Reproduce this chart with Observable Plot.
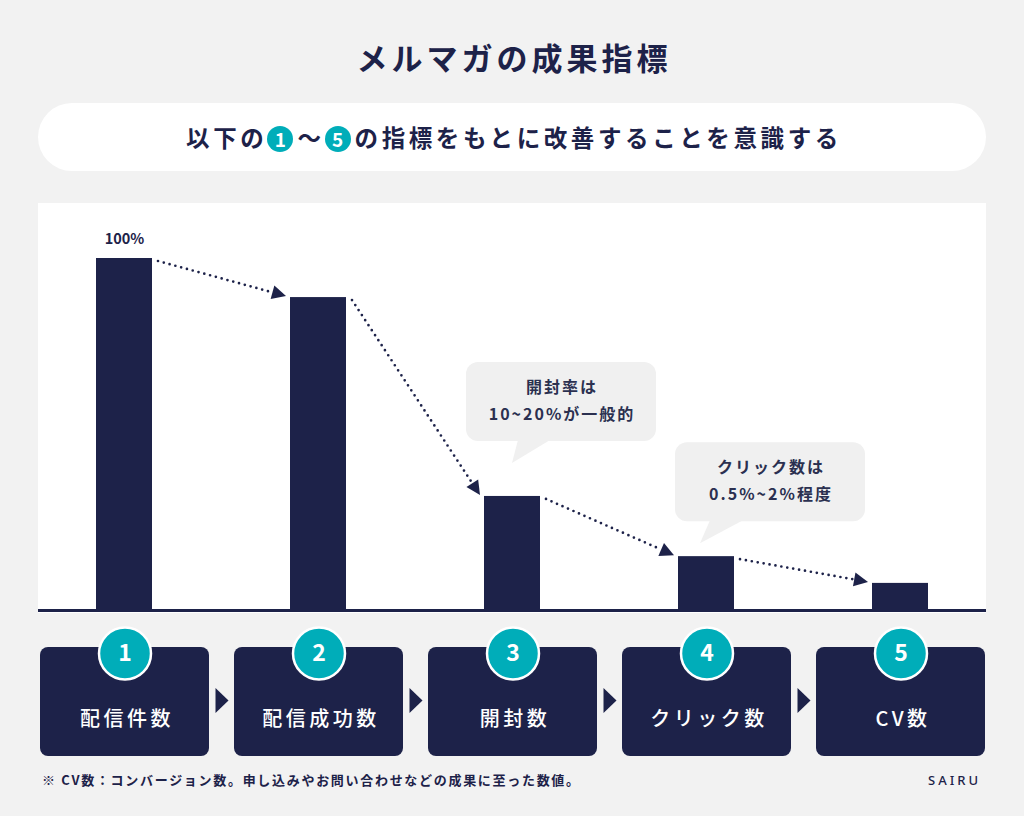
<!DOCTYPE html>
<html><head><meta charset="utf-8">
<script src="https://cdn.jsdelivr.net/npm/d3@7"></script>
<script src="https://cdn.jsdelivr.net/npm/@observablehq/plot@0.6"></script>
<style>
body{margin:0;background:#f2f2f2;width:1024px;height:816px;position:relative;overflow:hidden;font-family:"Noto Sans CJK JP","Noto Sans",sans-serif;color:#1d2249;}
#title{position:absolute;left:0;width:1024px;top:32px;text-align:center;font-size:31px;font-weight:700;letter-spacing:4px;line-height:50px;text-indent:4px;}
#pill{position:absolute;left:38px;top:103px;width:948px;height:68px;border-radius:34px;background:#fff;text-align:center;line-height:68px;font-size:23.5px;font-weight:700;letter-spacing:3.6px;text-indent:4px;}
.num{display:inline-block;width:26px;height:26px;border-radius:50%;background:#00adb9;color:#fff;line-height:26px;font-size:19px;letter-spacing:0;text-indent:0;text-align:center;vertical-align:middle;position:relative;top:-2px;margin-right:4px;}
#chart{position:absolute;left:38px;top:203px;}
#steps{position:absolute;left:38px;top:612px;}
#steps svg text.lbl{letter-spacing:3.5px;}
#chart svg text.co{letter-spacing:2px;}
#note{position:absolute;left:42px;top:769px;font-size:13px;font-weight:700;letter-spacing:1.7px;line-height:22px;}
#logo{position:absolute;left:928px;top:769px;font-size:13px;letter-spacing:3px;font-weight:500;line-height:22px;font-family:"Noto Sans","Open Sans",sans-serif;}
</style>
</head><body>
<div id="title">メルマガの成果指標</div>
<div id="pill">以下の<span class="num">1</span>〜<span class="num">5</span>の指標をもとに改善することを意識する</div>
<div id="chart"></div>
<div id="steps"></div>
<div id="note">※ CV数：コンバージョン数。申し込みやお問い合わせなどの成果に至った数値。</div>
<div id="logo">SAIRU</div>
<script>
// ---- data ----
const categories = ["配信件数", "配信成功数", "開封数", "クリック数", "CV数"];
const stepNumbers = ["1", "2", "3", "4", "5"];
const rates = [100, 88.9, 32.4, 15.3, 7.7];
const topLabels = ["100%", "", "", "", ""];
const calloutCategories = ["開封数", "クリック数"];
const calloutLines = [["開封率は", "10~20%が一般的"], ["クリック数は", "0.5%~2%程度"]];

// ---- styles / layout ----
const NAVY = "#1d2249";
const TEAL = "#00adb9";
const BUBBLE = "#f0f0f0";
const calloutLayout = [
  {dx: -18, top: -134, w: 190, h: 79, tipX: 46, tipY: 101, baseL: 52, baseR: 84},
  {dx: -3, top: -114, w: 190, h: 79, tipX: 25, tipY: 101, baseL: 35, baseR: 68}
];

const data = categories.map((c, i) => ({category: c, rate: rates[i], label: topLabels[i]}));

function bandInfo(x) {
  return typeof x.bandwidth === "function" ? x.bandwidth() : (x.bandwidth || 0);
}

function arrowsMark(index, scales) {
  const x = scales.x, y = scales.y, bw = bandInfo(x);
  const g = d3.create("svg:g");
  for (let i = 0; i < categories.length - 1; i++) {
    const x1 = x(categories[i]) + bw + 6, y1 = y(rates[i]) + 3;
    const x2 = x(categories[i + 1]) - 4, y2 = y(rates[i + 1]) - 1;
    const ang = Math.atan2(y2 - y1, x2 - x1);
    const L = 14, W = 7;
    const bx = x2 - L * Math.cos(ang), by = y2 - L * Math.sin(ang);
    g.append("line")
      .attr("x1", x1).attr("y1", y1).attr("x2", bx).attr("y2", by)
      .attr("stroke", NAVY).attr("stroke-width", 2.7)
      .attr("stroke-linecap", "round").attr("stroke-dasharray", "0 6");
    g.append("path")
      .attr("d", `M${x2},${y2}L${bx + W * Math.sin(ang)},${by - W * Math.cos(ang)}L${bx - W * Math.sin(ang)},${by + W * Math.cos(ang)}Z`)
      .attr("fill", NAVY);
  }
  return g.node();
}

function calloutsMark(index, scales) {
  const x = scales.x, y = scales.y;
  const g = d3.create("svg:g");
  calloutCategories.forEach((cat, k) => {
    const i = categories.indexOf(cat);
    const L = calloutLayout[k];
    const left = x(cat) + L.dx, top = y(rates[i]) + L.top;
    g.append("rect").attr("x", left).attr("y", top).attr("width", L.w).attr("height", L.h)
      .attr("rx", 12).attr("fill", BUBBLE);
    g.append("path")
      .attr("d", `M${left + L.baseL},${top + L.h - 1}L${left + L.tipX},${top + L.tipY}L${left + L.baseR},${top + L.h - 1}Z`)
      .attr("fill", BUBBLE);
    calloutLines[k].forEach((t, j) => {
      g.append("text").attr("class", "co")
        .attr("x", left + L.w / 2 + 1).attr("y", top + 24 + j * 27)
        .attr("text-anchor", "middle").attr("dominant-baseline", "central")
        .attr("fill", "#2b3050").attr("font-size", 16).attr("font-weight", 700)
        .text(t);
    });
  });
  return g.node();
}

const chart = Plot.plot({
  width: 948, height: 410,
  marginTop: 55, marginBottom: 3, marginLeft: 0, marginRight: 0,
  style: {background: "#fff", overflow: "visible", fontFamily: "Noto Sans CJK JP"},
  x: {domain: categories, paddingInner: 0.712, paddingOuter: 0.296, axis: null},
  y: {domain: [0, 100], axis: null},
  marks: [
    Plot.barY(data, {x: "category", y: "rate", fill: NAVY}),
    Plot.ruleY([0], {stroke: NAVY, strokeWidth: 3}),
    Plot.text(data.filter(d => d.label), {x: "category", y: "rate", text: "label", dy: -19, fill: NAVY, fontSize: 14.5, fontWeight: 600}),
    arrowsMark,
    calloutsMark
  ]
});
document.getElementById("chart").append(chart);

const triangleRight = {draw(ctx) { ctx.moveTo(-6.5, -12.5); ctx.lineTo(6.5, 0); ctx.lineTo(-6.5, 12.5); ctx.closePath(); }};

const steps = Plot.plot({
  width: 948, height: 150, margin: 0,
  style: {background: "transparent", overflow: "visible", fontFamily: "Noto Sans CJK JP"},
  x: {domain: categories, paddingInner: 0.13, paddingOuter: 0.005, axis: null},
  marks: [
    Plot.cell(categories, {x: d => d, fill: NAVY, insetTop: 35, insetBottom: 6, rx: 8}),
    Plot.dot(categories.slice(0, -1), {x: d => d, frameAnchor: "top", dy: 88, dx: 97, symbol: triangleRight, fill: NAVY, stroke: "none"}),
    Plot.dot(categories, {x: d => d, frameAnchor: "top", dy: 41, r: 26, fill: TEAL, stroke: "#fff", strokeWidth: 2.5}),
    Plot.text(stepNumbers, {x: (d, i) => categories[i], text: d => d, frameAnchor: "top", lineAnchor: "middle", dy: 41, fill: "#fff", fontSize: 23, fontWeight: 600}),
    Plot.text(categories, {x: d => d, text: d => d, frameAnchor: "top", lineAnchor: "middle", dy: 107, dx: 2, fill: "#fff", fontSize: 20, fontWeight: 500})
  ]
});
document.getElementById("steps").append(steps);
d3.select(steps).selectAll("text").filter(function(){ return categories.includes(d3.select(this).text()); }).attr("class", "lbl");
</script>
</body></html>
